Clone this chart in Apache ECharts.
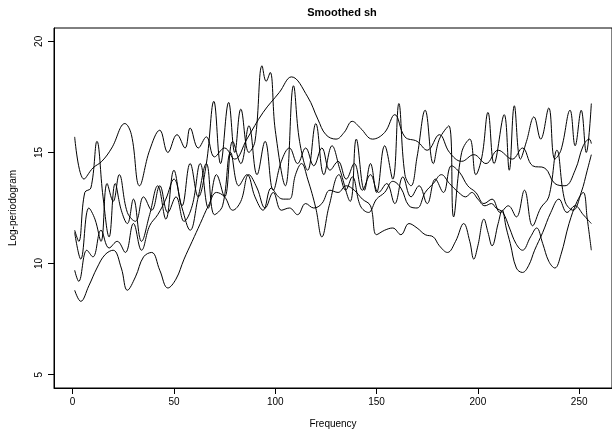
<!DOCTYPE html>
<html><head><meta charset="utf-8">
<script src="https://cdn.jsdelivr.net/npm/echarts@6/dist/echarts.min.js"></script>
<style>html,body{margin:0;padding:0;background:#fff}#c{width:612px;height:438px}</style>
</head><body><div id="c"></div>
<script>
const title = "Smoothed sh";
const xName = "Frequency";
const yName = "Log-periodogram";
const xTicks = [0, 50, 100, 150, 200, 250];
const yTicks = [5, 10, 15, 20];

const f1 = [1,5.6,10,14.4,19.3,25.8,29,33,38,43,47,51.5,55.5,58,62,66,70,75,80,86,94,102,108,116,121,125,130,134,138,142,148,154,159,164,170,175,181,186,192,198,204,210,217,222,227,233,238,243,248,252,255,256];
const v1 = [15.7,13.8,14.3,14.6,15.2,16.3,15.8,13.5,15.1,16.0,15.0,15.8,15.2,16.1,15.2,15.7,14.8,15.2,14.7,15.6,16.8,17.7,18.4,17.5,16.5,15.8,15.6,15.9,16.4,16.1,15.6,15.9,16.7,15.7,15.5,15.1,15.8,15.0,14.6,14.9,14.5,15.1,14.7,15.2,14.4,14.3,13.6,13.5,14.2,15.3,15.6,15.4];

const f2 = [1,3,6,9,12,15,18,21,24,27,30,34,38,42,46,50,54,58,62,66,69.7,73,77,80,83,87,90,93.5,95.5,97.5,100,105,109,112,116,120,124,128,132,137,140,144,147,150,154,158,161,164,167,170,174,178,181,185.7,188,192,196,199,202,205,208,213,215.5,218,221,224,227.7,231,235,238,241,245.5,248,251,253.5,256];
const v2 = [11.5,11.0,13.2,13.4,15.5,13.0,11.2,13.6,12.4,11.8,12.9,11.0,12.2,13.5,12.0,14.2,12.6,14.5,13.0,14.5,17.3,14.5,17.25,15.0,16.95,15.0,15.5,18.9,18.2,18.6,16.0,13.5,18.0,15.5,14.2,16.3,14.0,15.3,14.2,12.8,15.6,13.3,14.5,13.2,15.3,13.8,17.2,14.0,13.5,14.8,16.9,14.5,15.6,16.2,12.1,15.0,15.6,14.0,14.8,16.8,14.5,16.7,14.2,17.1,14.7,15.5,16.6,15.6,17.0,14.7,15.1,16.9,15.3,16.9,15.0,17.2];

const f3 = [1,4,8,11,14,17,20,23,27,31,35,39,43,47,51,55,59,63,67,71,75,79,83,87,91,95,99,103,107,111,115,119,123,127,131,135,139,143,147,151,155,159,163,167,171,175,179,183,187,191,195,199,203,207,211,215,219,223,227,231,235,239,243,247,251,254,256];
const v3 = [11.4,10.2,12.5,12.0,11.0,13.6,12.8,14.0,12.3,11.9,13.0,12.4,13.5,12.3,13.0,11.9,12.6,14.5,12.5,14.0,13.0,15.5,14.5,16.2,14.0,15.5,13.3,14.6,15.2,14.5,15.2,14.4,15.2,14.2,14.6,13.8,14.5,13.3,14.0,13.2,13.6,12.7,13.9,13.0,13.5,12.7,13.8,13.2,14.4,14.1,13.5,13.2,12.7,12.9,12.3,12.6,12.1,13.3,11.7,12.5,13.0,15.1,12.8,12.4,13.2,14.2,14.9];

const f4 = [1,3,7,10,14,18,22,26,30,34,38,42,46,50,54,58,62,66,70,74,78,82,86,90,94,98,101.6,104,107,110,113,116,120,123,126.6,131.5,134.7,138,142,146,150,154,158,162,166,170,174,178,182,186,190.5,194,197,200,203.5,206.7,209,212.3,215.6,218.8,222,226,229,232,235,238,241,245,249,252,254,256];
const v4 = [9.7,9.2,10.6,10.3,11.5,10.7,11.0,10.5,11.8,10.6,11.7,12.2,12.9,13.8,12.5,11.5,13.0,14.5,12.2,12.6,15.0,13.5,14.0,13.0,12.4,13.4,13.0,12.9,12.9,14.0,14.5,13.8,12.5,11.2,12.6,14.0,13.3,13.9,12.6,12.3,12.9,13.2,13.7,13.4,12.6,12.5,13.2,13.6,14.0,13.6,13.2,13.0,13.2,12.9,12.6,12.7,12.5,12.3,11.6,10.9,10.6,11.2,11.6,10.9,10.1,9.8,10.4,11.8,12.8,13.2,12.0,10.6];

const f5 = [1,4,8,12,16,20,24,27,31,35,39,43,47,51,55,59,63,67,71,75,79,83,87,91,95,99,103,107,111,115,119,123,127,131,135,139,143,147,150,154,158,162,166,170,174,178,181,185,189,193,196,198,200,203,205,207,210,212,214,216,219,222,225,228,232,236,240,244,248,252,256];
const v5 = [8.8,8.3,9.0,9.8,10.4,10.6,9.8,8.8,9.4,10.3,10.5,9.7,8.9,9.3,10.2,11.0,11.8,12.6,13.2,13.0,12.4,12.8,14.0,13.4,12.5,13.2,12.4,12.5,12.2,12.7,12.5,12.7,13.3,13.2,13.5,13.3,12.9,12.6,11.3,11.5,11.6,11.3,11.8,11.6,11.3,11.2,10.8,10.5,11.0,11.8,11.0,10.2,10.8,12.0,11.4,10.8,11.8,12.4,11.6,10.9,9.8,9.6,9.9,10.6,11.4,12.3,12.9,12.3,12.6,12.2,11.8];

const freqs = [f1, f2, f3, f4, f5];
const vals = [v1, v2, v3, v4, v5];

const chart = echarts.init(document.getElementById('c'), null, {renderer: 'canvas'});
const font = 'Liberation Sans, Arial, Helvetica, sans-serif';
chart.setOption({
  animation: false,
  backgroundColor: '#fff',
  title: {
    text: title, left: 337, top: 2, textAlign: 'center',
    textStyle: {fontFamily: font, fontSize: 11, fontWeight: 'bold', color: '#000'}
  },
  grid: {left: 53, top: 28, width: 568, height: 360, show: true, borderColor: '#000', borderWidth: 1, backgroundColor: 'transparent'},
  xAxis: {
    type: 'value', min: -9.2, max: 266.2,
    name: xName, nameLocation: 'middle', nameGap: 31,
    nameTextStyle: {fontFamily: font, fontSize: 10, color: '#000'},
    axisLine: {show: true, onZero: false, lineStyle: {color: '#000', width: 1}},
    axisTick: {show: true, length: 6, customValues: xTicks, lineStyle: {color: '#000', width: 1}},
    axisLabel: {customValues: xTicks, fontFamily: font, fontSize: 10, color: '#000', margin: 9},
    splitLine: {show: false}
  },
  yAxis: {
    type: 'value', min: 4.4, max: 20.6,
    name: yName, nameLocation: 'middle', nameGap: 36, nameRotate: 90,
    nameTextStyle: {fontFamily: font, fontSize: 10, color: '#000'},
    axisLine: {show: true, onZero: false, lineStyle: {color: '#000', width: 1}},
    axisTick: {show: true, length: 6, customValues: yTicks, lineStyle: {color: '#000', width: 1}},
    axisLabel: {customValues: yTicks, rotate: 90, fontFamily: font, fontSize: 10, color: '#000', margin: 10},
    splitLine: {show: false}
  },
  series: freqs.map((f, i) => ({
    type: 'line', showSymbol: false, smooth: 0.4,
    data: f.map((x, j) => [x, vals[i][j]]),
    lineStyle: {color: '#000', width: 1},
    clip: true
  }))
});
</script></body></html>
